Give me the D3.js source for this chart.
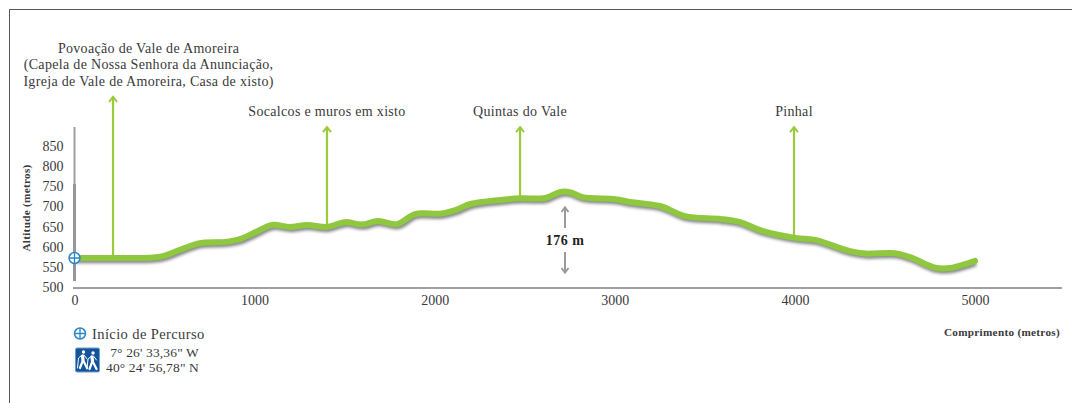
<!DOCTYPE html>
<html>
<head>
<meta charset="utf-8">
<script src="https://cdn.jsdelivr.net/npm/d3@7"></script>
<style>
html, body { margin: 0; padding: 0; background: #fff; }
svg { display: block; }
text { font-family: "Liberation Serif", serif; fill: #3a3a3c; }
</style>
</head>
<body>
<svg id="chart" width="1072" height="403"></svg>
<script>
// perfil: distancia (m) e altitude (m)
var distancia = [0, 250, 475, 590, 697, 836, 919, 1019, 1097, 1197, 1291, 1402, 1502, 1596, 1685, 1791, 1891, 2030, 2115, 2199, 2365, 2476, 2615, 2698, 2754, 2820, 3002, 3085, 3250, 3390, 3585, 3696, 3807, 4001, 4112, 4306, 4390, 4556, 4639, 4778, 4861, 5000];
var altitude = [572, 572, 575, 593, 609, 612, 619, 639, 654, 649, 654, 649, 661, 655, 664, 656, 681, 682, 691, 706, 716, 720, 721, 736, 735, 723, 718, 711, 701, 676, 669, 661, 641, 622, 617, 589, 583, 584, 574, 548, 547, 565];

var xTicks = [0, 1000, 2000, 3000, 4000, 5000];
var yTicks = [500, 550, 600, 650, 700, 750, 800, 850];

var pontos = [
	["Povoação de Vale de Amoreira", "(Capela de Nossa Senhora da Anunciação,", "Igreja de Vale de Amoreira, Casa de xisto)"],
	["Socalcos e muros em xisto"],
	["Quintas do Vale"],
	["Pinhal"]
];
var pontosX = [214, 1402, 2474, 3995];
var pontosBase = [572, 649, 720, 622];
var pontosTopo = [972, 897, 897, 897];

var svg = d3.select("#chart");
var verde = "#8fc73e";
var cinza = "#a09fa4";
var azul = "#2a84c8";

var x = d3.scaleLinear().domain([0, 5000]).range([74.5, 975]);
var y = d3.scaleLinear().domain([500, 850]).range([287, 146]);

// moldura
svg.append("path")
	.attr("d", "M9.5,403V9.5H1072")
	.attr("fill", "none")
	.attr("stroke", "#555")
	.attr("stroke-width", 1);

var defs = svg.append("defs");
var sombra = defs.append("filter").attr("id", "sombra")
	.attr("x", "-5%").attr("y", "-40%").attr("width", "110%").attr("height", "200%");
sombra.append("feGaussianBlur").attr("in", "SourceGraphic").attr("stdDeviation", 1.5);

// eixos
svg.append("line").attr("x1", 74.5).attr("x2", 74.5).attr("y1", 127).attr("y2", 281)
	.attr("stroke", cinza).attr("stroke-width", 2);
svg.append("line").attr("x1", 74.5).attr("x2", 74.5).attr("y1", 184).attr("y2", 281)
	.attr("stroke", "#97969b").attr("stroke-width", 3);
svg.append("line").attr("x1", 73).attr("x2", 1062).attr("y1", 288).attr("y2", 288)
	.attr("stroke", cinza).attr("stroke-width", 2);

var eixoX = svg.append("g").attr("transform", "translate(0,294)")
	.call(d3.axisBottom(x).tickValues(xTicks).tickSize(0).tickPadding(0).tickFormat(d3.format("d")));
eixoX.select(".domain").remove();
eixoX.selectAll("text").attr("font-size", 14).attr("dy", "0.8em").style("font-family", "'Liberation Serif', serif");

var eixoY = svg.append("g").attr("transform", "translate(63.5,0)")
	.call(d3.axisLeft(y).tickValues(yTicks).tickSize(0).tickPadding(0).tickFormat(d3.format("d")));
eixoY.select(".domain").remove();
eixoY.selectAll("text").attr("font-size", 14).style("font-family", "'Liberation Serif', serif");

svg.append("text")
	.attr("transform", "translate(30,208) rotate(-90)")
	.attr("text-anchor", "middle")
	.attr("font-size", 11.2).attr("font-weight", "bold")
	.attr("letter-spacing", 0.3)
	.text("Altitude (metros)");
svg.append("text")
	.attr("x", 1060).attr("y", 336)
	.attr("text-anchor", "end")
	.attr("font-size", 11.2).attr("font-weight", "bold")
	.attr("letter-spacing", 0.3)
	.text("Comprimento (metros)");

// setas dos pontos de interesse
var seta = svg.selectAll(".seta").data(pontos).enter().append("g").classed("seta", true);
seta.append("line")
	.attr("x1", (d, i) => x(pontosX[i])).attr("x2", (d, i) => x(pontosX[i]))
	.attr("y1", (d, i) => y(pontosBase[i])).attr("y2", (d, i) => y(pontosTopo[i]))
	.attr("stroke", "#9bcb3c").attr("stroke-width", 2.2);
seta.append("path")
	.attr("d", (d, i) => {
		var px = x(pontosX[i]), py = y(pontosTopo[i]);
		return "M" + (px - 4) + "," + (py + 5) + "L" + px + "," + py + "L" + (px + 4) + "," + (py + 5);
	})
	.attr("fill", "none").attr("stroke", "#9bcb3c").attr("stroke-width", 2);
seta.each(function(d, i) {
	var n = d.length;
	d3.select(this).selectAll("text").data(d).enter().append("text")
		.attr("x", x(pontosX[i]) + (i == 0 ? 35.5 : 0))
		.attr("y", (t, j) => y(pontosTopo[i]) - 11 - (n - 1 - j) * 16.5)
		.attr("text-anchor", "middle")
		.attr("font-size", 14)
		.attr("letter-spacing", 0.32)
		.text(t => t);
});

// perfil
var linha = d3.line()
	.x((d, i) => x(distancia[i]))
	.y(d => y(d))
	.curve(d3.curveCatmullRom.alpha(0.5));

svg.append("path").datum(altitude)
	.attr("d", linha)
	.attr("transform", "translate(1,2.5)")
	.attr("fill", "none")
	.attr("stroke", "#55565a")
	.attr("stroke-width", 5.5)
	.attr("opacity", 0.7)
	.attr("filter", "url(#sombra)");
svg.append("path").datum(altitude)
	.attr("d", linha)
	.attr("fill", "none")
	.attr("stroke", verde)
	.attr("stroke-width", 6)
	.attr("stroke-linecap", "round");

function cruz(g, cx, cy, r) {
	g.append("circle").attr("cx", cx).attr("cy", cy).attr("r", r)
		.attr("fill", "#fff").attr("stroke", azul).attr("stroke-width", 1.5);
	g.append("path")
		.attr("d", "M" + (cx - r) + "," + cy + "H" + (cx + r) + "M" + cx + "," + (cy - r) + "V" + (cy + r))
		.attr("stroke", azul).attr("stroke-width", 1.3);
}
cruz(svg, x(0), y(altitude[0]), 5.5);

// 176 m
var mx = 565;
var cinzaSeta = svg.append("g").attr("fill", "none").attr("stroke", "#9a9a9e").attr("stroke-width", 2);
cinzaSeta.append("path").attr("d", "M" + mx + ",228V208M" + (mx - 3.5) + ",212L" + mx + ",207.5L" + (mx + 3.5) + ",212");
cinzaSeta.append("path").attr("d", "M" + mx + ",252V272M" + (mx - 3.5) + ",268L" + mx + ",272.5L" + (mx + 3.5) + ",268");
svg.append("text").attr("x", mx).attr("y", 244.5)
	.attr("text-anchor", "middle")
	.attr("font-size", 14).attr("font-weight", "bold")
	.attr("letter-spacing", 0.5)
	.style("fill", "#222")
	.text("176 m");

// legenda
cruz(svg, 80, 333.5, 5.5);
svg.append("text").attr("x", 92).attr("y", 339).attr("font-size", 14.5).attr("letter-spacing", 0.4).text("Início de Percurso");
svg.append("rect").attr("x", 75.5).attr("y", 348).attr("width", 24).attr("height", 24)
	.attr("rx", 1.5).attr("fill", "#13549c").attr("stroke", "#6f9cc9").attr("stroke-width", 1);
var hiker = svg.append("g").attr("fill", "none").attr("stroke", "#fff").attr("stroke-width", 2.2).attr("stroke-linecap", "round");
[[83, 352], [92.5, 353]].forEach(p => {
	hiker.append("circle").attr("cx", p[0] + 0.5).attr("cy", p[1]).attr("r", 1.7).attr("fill", "#fff").attr("stroke", "none");
	hiker.append("path").attr("stroke-width", 3.2).attr("d", "M" + (p[0] - 0.5) + "," + (p[1] + 4) + "L" + p[0] + "," + (p[1] + 8));
	hiker.append("path").attr("d", "M" + p[0] + "," + (p[1] + 8) + "L" + (p[0] - 3) + "," + (p[1] + 16) + "M" + p[0] + "," + (p[1] + 8) + "L" + (p[0] + 4) + "," + (p[1] + 16));
	hiker.append("path").attr("stroke-width", 1).attr("d", "M" + (p[0] - 1) + "," + (p[1] + 3) + "L" + (p[0] - 4.5) + "," + (p[1] + 6) + "L" + (p[0] - 5.5) + "," + (p[1] + 16) + "M" + (p[0] + 1) + "," + (p[1] + 3) + "L" + (p[0] + 4) + "," + (p[1] + 7));
});
svg.append("text").attr("x", 199).attr("y", 357).attr("text-anchor", "end").attr("font-size", 13.5).attr("letter-spacing", 0.15).text("7° 26' 33,36\" W");
svg.append("text").attr("x", 199).attr("y", 372).attr("text-anchor", "end").attr("font-size", 13.5).attr("letter-spacing", 0.15).text("40° 24' 56,78\" N");
</script>
</body>
</html>
